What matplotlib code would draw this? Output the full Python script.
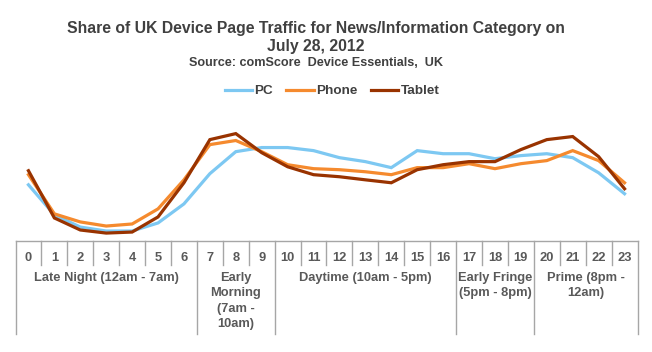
import matplotlib
matplotlib.use("Agg")
import matplotlib.pyplot as plt
from matplotlib.lines import Line2D

plt.rcParams['font.family'] = ['Liberation Sans', 'DejaVu Sans']

hours = list(range(24))
hour_labels = [str(h) for h in hours]
pc = [3.56, 1.51, 0.68, 0.41, 0.41, 0.96, 2.26, 4.32, 5.82, 6.10, 6.10, 5.89,
      5.41, 5.14, 4.73, 5.89, 5.68, 5.68, 5.34, 5.55, 5.68, 5.41, 4.38, 2.95]
phone = [4.25, 1.58, 1.03, 0.75, 0.89, 1.92, 3.90, 6.30, 6.58, 5.82, 4.93, 4.66,
         4.59, 4.45, 4.25, 4.73, 4.73, 5.00, 4.66, 5.00, 5.21, 5.89, 5.21, 3.70]
tablet = [4.52, 1.30, 0.48, 0.27, 0.34, 1.37, 3.70, 6.64, 7.05, 5.75, 4.79, 4.25,
          4.11, 3.90, 3.70, 4.59, 4.93, 5.14, 5.14, 5.96, 6.64, 6.85, 5.48, 3.29]
series_names = ['PC', 'Phone', 'Tablet']
colors = ['#7DC8F2', '#F58A2E', '#993300']

groups = ['Late Night (12am - 7am)', 'Early\nMorning\n(7am -\n10am)',
          'Daytime (10am - 5pm)', 'Early Fringe\n(5pm - 8pm)', 'Prime (8pm -\n12am)']
group_bounds = [(0, 7), (7, 10), (10, 17), (17, 20), (20, 24)]

W, H = 652, 352
fig = plt.figure(figsize=(W / 100, H / 100), dpi=100)
ax = fig.add_axes([15.5 / W, (H - 241) / H, 622 / W, 136 / H])

for vals, c, n in zip([pc, phone, tablet], colors, series_names):
    ax.plot(hours, vals, color=c, lw=2.3, label=n, solid_joinstyle='miter')

ax.set_xlim(-0.5, 23.5)
ax.set_ylim(-0.27, 9)
for s in ['left', 'right', 'top']:
    ax.spines[s].set_visible(False)
ax.spines['bottom'].set_color('#A6A6A6')
ax.spines['bottom'].set_linewidth(1)
ax.set_xticks([])
ax.set_yticks([])

tr = ax.get_xaxis_transform()
grey = '#A6A6A6'
txtc = '#595959'
short_y = (241 - 265) / 136
long_y = (241 - 334) / 136
# hour separators
for b in range(25):
    if b in (0, 7, 10, 17, 20, 24):
        ax.plot([b - 0.5, b - 0.5], [0, long_y], transform=tr, color=grey, lw=1, clip_on=False)
    else:
        ax.plot([b - 0.5, b - 0.5], [0, short_y], transform=tr, color=grey, lw=1, clip_on=False)
for h, lab in zip(hours, hour_labels):
    ax.text(h, (241 - 258) / 136, lab, transform=tr, ha='center', va='center',
            fontsize=9.3, fontweight='bold', color=txtc)
for g, (a, b) in zip(groups, group_bounds):
    ax.text((a + b - 1) / 2, (241 - 272) / 136, g, transform=tr, ha='center', va='top',
            fontsize=9.3, fontweight='bold', color=txtc, linespacing=1.38)

tx = 316 / W
fig.text(tx, 1 - 29 / H, 'Share of UK Device Page Traffic for News/Information Category on',
         ha='center', va='center', fontsize=11.3, fontweight='bold', color='#404040')
fig.text(tx, 1 - 46 / H, 'July 28, 2012', ha='center', va='center', fontsize=11.3,
         fontweight='bold', color='#404040')
fig.text(tx, 1 - 63 / H, 'Source: comScore  Device Essentials,  UK', ha='center', va='center',
         fontsize=9.1, fontweight='bold', color='#404040')

handles = [Line2D([], [], color=c, lw=2.3) for c in colors]
fig.legend(handles, series_names, loc='center', bbox_to_anchor=(332 / W, 1 - 91 / H), ncol=3,
           frameon=False, handlelength=2.05, handletextpad=0.15, columnspacing=1.0,
           prop={'size': 9.7, 'weight': 'bold'}, labelcolor='#404040')

fig.savefig('out.png', dpi=100)
